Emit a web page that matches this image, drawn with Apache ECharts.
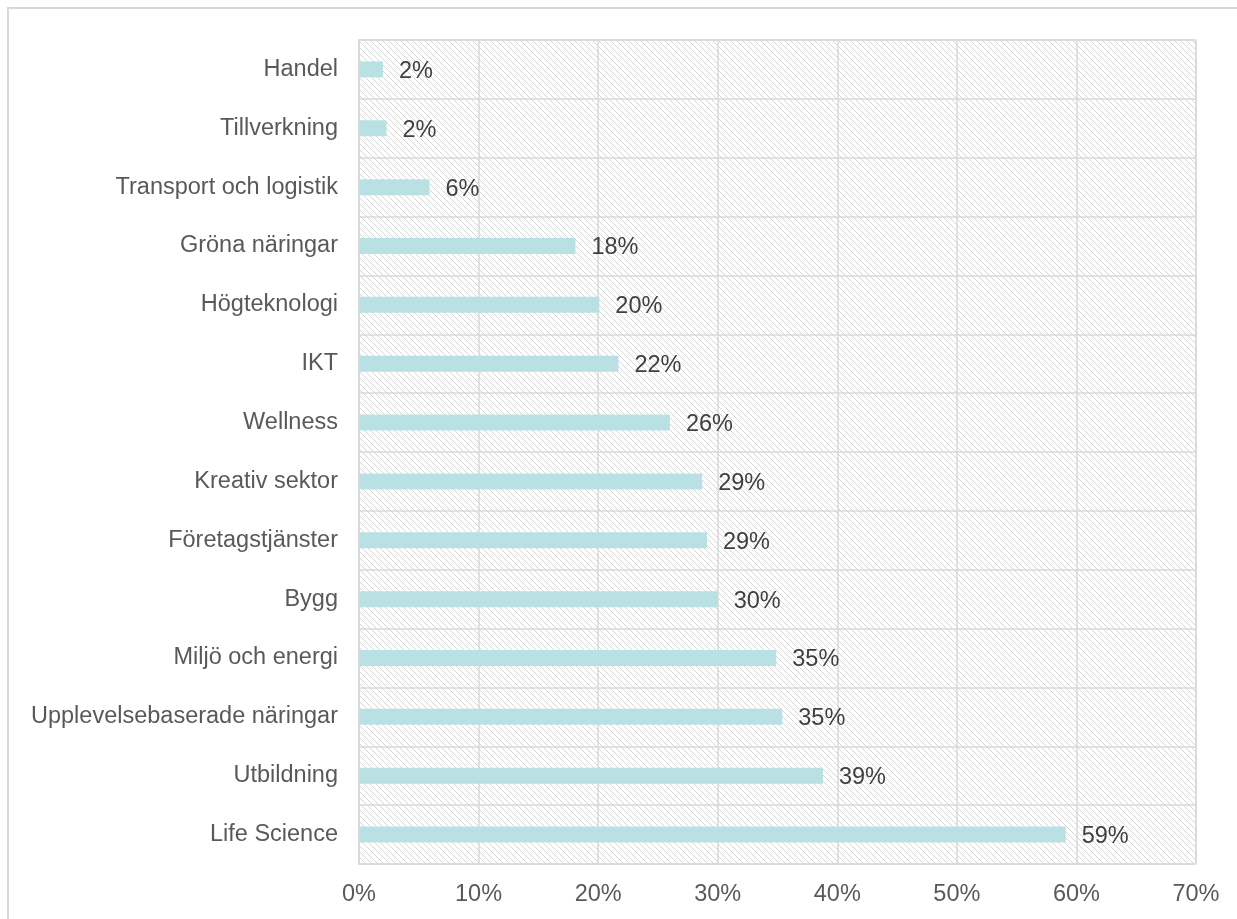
<!DOCTYPE html>
<html><head><meta charset="utf-8">
<script src="https://cdn.jsdelivr.net/npm/echarts@6/dist/echarts.min.js"></script>
<style>html,body{margin:0;padding:0;background:#fff}#c{width:1237px;height:919px}</style>
</head><body><div id="c"></div>
<script>
const categories = ["Handel","Tillverkning","Transport och logistik","Gröna näringar","Högteknologi","IKT","Wellness","Kreativ sektor","Företagstjänster","Bygg","Miljö och energi","Upplevelsebaserade näringar","Utbildning","Life Science"];
const values = [2.0, 2.3, 5.9, 18.1, 20.1, 21.7, 26.0, 28.7, 29.1, 30.0, 34.9, 35.4, 38.8, 59.1];
const xTicks = {min: 0, max: 70, interval: 10};

const pc = document.createElement('canvas');
pc.width = 6; pc.height = 6;
const g = pc.getContext('2d');
g.fillStyle = '#ffffff'; g.fillRect(0,0,6,6);
g.fillStyle = '#d6d6d6';
for (let i = 0; i < 6; i++) { g.fillRect(i, i, 1, 1); }

const chart = echarts.init(document.getElementById('c'), null, {renderer: 'canvas'});
const font = 'Arial, "Liberation Sans", sans-serif';
chart.setOption({
  backgroundColor: '#fff',
  animation: false,
  grid: {left: 359, right: 41, top: 40, bottom: 55, show: true, backgroundColor: {image: pc, repeat: 'repeat'}, borderWidth: 0},
  xAxis: {type: 'value', min: xTicks.min, max: xTicks.max, interval: xTicks.interval,
    axisLine: {show: false}, axisTick: {show: false},
    axisLabel: {formatter: v => v + '%', color: '#595959', fontSize: 23.5, fontFamily: font, margin: 19},
    splitLine: {show: true, lineStyle: {color: '#d9d9d9', width: 1.5}}},
  yAxis: {type: 'category', data: categories, inverse: true,
    axisLine: {show: true, lineStyle: {color: '#d9d9d9', width: 1.5}}, axisTick: {show: false},
    axisLabel: {color: '#595959', fontSize: 23.5, fontFamily: font, margin: 21, padding: [4, 0, 0, 0]},
    splitLine: {show: true, lineStyle: {color: '#d9d9d9', width: 1.5}}},
  series: [{type: 'bar', data: values, barWidth: 16, itemStyle: {color: '#b9e0e3'},
    label: {show: true, position: 'right', distance: 16, offset: [0, 2], formatter: p => Math.round(p.value) + '%', color: '#404040', fontSize: 23.5, fontFamily: font}}],
  graphic: [{type: 'rect', shape: {x: 8, y: 8, width: 1260, height: 940}, style: {fill: 'none', stroke: '#d9d9d9', lineWidth: 2}, z: -10},
    {type: 'rect', shape: {x: 359, y: 40, width: 837, height: 824}, style: {fill: 'none', stroke: '#d9d9d9', lineWidth: 1.5}, z: 1}]
});
</script></body></html>
